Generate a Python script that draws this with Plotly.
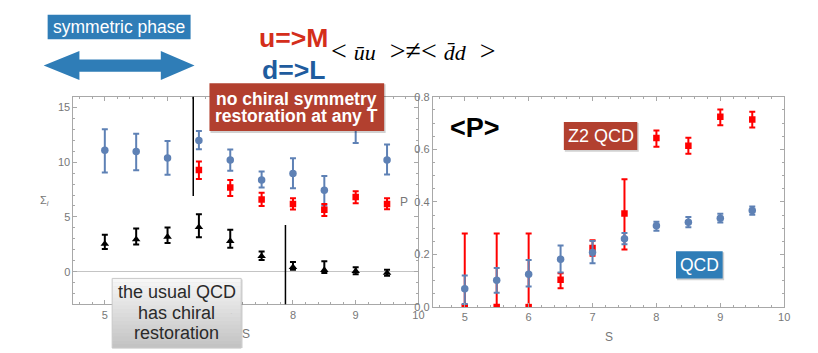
import plotly.graph_objects as go

# ---- data ----
S = [5, 5.5, 6, 6.5, 7, 7.5, 8, 8.5, 9, 9.5]
S_red = [6.5, 7, 7.5, 8, 8.5, 9, 9.5]

# left panel: Sigma_i
sig_blue = [11.09, 10.97, 10.38, 11.97, 10.21, 8.38, 8.97, 7.44, 13.2, 10.21]
sig_blue_up = [1.91, 1.62, 1.56, 0.88, 0.94, 0.77, 1.38, 1.30, 1.4, 1.41]
sig_blue_dn = [2.03, 1.71, 1.53, 0.79, 1.00, 0.70, 1.35, 1.40, 1.44, 1.33]

sig_red = [9.29, 7.68, 6.59, 6.18, 5.65, 6.82, 6.18]
sig_red_up = [0.77, 0.70, 0.62, 0.53, 0.53, 0.53, 0.53]
sig_red_dn = [0.82, 0.77, 0.59, 0.50, 0.56, 0.56, 0.47]

sig_black = [2.53, 2.94, 3.18, 4.06, 2.79, 1.41, 0.41, 0.15, 0.06, -0.12]
sig_black_up = [0.85, 1.00, 0.85, 1.18, 1.03, 0.44, 0.47, 0.79, 0.35, 0.30]
sig_black_dn = [0.47, 0.47, 0.56, 0.91, 0.61, 0.35, 0.23, 0.27, 0.30, 0.26]

# dividers drawn on the left panel (S, y_from, y_to)
dividers = [(6.41, 6.9, 16), (7.88, -3, 4.26)]

# right panel: <P>
p_z2 = [0.0, 0.0, 0.0, 0.104, 0.225, 0.356, 0.643, 0.614, 0.724, 0.714]
p_z2_up = [0.28, 0.28, 0.28, 0.025, 0.029, 0.13, 0.029, 0.03, 0.028, 0.029]
p_z2_dn = [0.28, 0.28, 0.28, 0.032, 0.03, 0.137, 0.033, 0.031, 0.032, 0.031]

p_qcd = [0.07, 0.102, 0.125, 0.182, 0.208, 0.26, 0.309, 0.323, 0.338, 0.367]
p_qcd_up = [0.05, 0.047, 0.054, 0.052, 0.043, 0.022, 0.016, 0.02, 0.017, 0.016]
p_qcd_dn = [0.058, 0.047, 0.047, 0.05, 0.041, 0.021, 0.019, 0.019, 0.016, 0.016]

BLUE = '#5e81b5'
RED = '#ff0000'
BOXRED = '#b2402f'
BOXBLUE = '#2f7db7'
FRAME = '#a8a8a8'
TXT = '#777777'

W, H = 818, 353
def px(x): return x / W
def py(y): return 1 - y / H


def errs(up, dn, color):
    return dict(type='data', symmetric=False, array=up, arrayminus=dn,
                color=color, thickness=2, width=3)


fig = go.Figure()

fig.add_trace(go.Scatter(x=S, y=sig_blue, mode='markers', xaxis='x', yaxis='y',
                         marker=dict(color=BLUE, size=7.5, symbol='circle'),
                         error_y=errs(sig_blue_up, sig_blue_dn, BLUE)))
fig.add_trace(go.Scatter(x=S_red, y=sig_red, mode='markers', xaxis='x', yaxis='y',
                         marker=dict(color=RED, size=6.5, symbol='square'),
                         error_y=errs(sig_red_up, sig_red_dn, RED)))
fig.add_trace(go.Scatter(x=S, y=sig_black, mode='markers', xaxis='x', yaxis='y',
                         marker=dict(color='black', size=7.5, symbol='triangle-up'),
                         error_y=errs(sig_black_up, sig_black_dn, 'black')))

fig.add_trace(go.Scatter(x=S, y=p_z2, mode='markers', xaxis='x2', yaxis='y2',
                         marker=dict(color=RED, size=6.5, symbol='square'),
                         error_y=errs(p_z2_up, p_z2_dn, RED)))
fig.add_trace(go.Scatter(x=S, y=p_qcd, mode='markers', xaxis='x2', yaxis='y2',
                         marker=dict(color=BLUE, size=7.5, symbol='circle'),
                         error_y=errs(p_qcd_up, p_qcd_dn, BLUE)))

for xv, y0, y1 in dividers:
    fig.add_shape(type='line', xref='x', yref='y', x0=xv, x1=xv, y0=y0, y1=y1,
                  line=dict(color='black', width=1.5))

axis_common = dict(showline=True, linecolor=FRAME, linewidth=1, mirror='ticks',
                   ticks='inside', ticklen=4, tickcolor=FRAME, showgrid=False,
                   tickfont=dict(family='Liberation Sans', size=11, color=TXT))

fig.update_layout(
    width=W, height=H, autosize=False,
    margin=dict(l=0, r=0, t=0, b=0),
    paper_bgcolor='white', plot_bgcolor='white',
    showlegend=False,
    xaxis=dict(domain=[px(74), px(421.5)], range=[4.5, 10], anchor='y',
               tickvals=[5, 6, 7, 8, 9, 10], zeroline=False,
               minor=dict(dtick=0.2, ticks='inside', ticklen=2, tickcolor=FRAME),
               **axis_common),
    yaxis=dict(domain=[py(309), py(93.7)], range=[-3, 16], anchor='x',
               tickvals=[0, 5, 10, 15], zeroline=True, zerolinecolor='#c4c4c4',
               zerolinewidth=1,
               minor=dict(dtick=1, ticks='inside', ticklen=2, tickcolor=FRAME),
               **axis_common),
    xaxis2=dict(domain=[px(436), px(790)], range=[4.5, 10], anchor='y2',
                tickvals=[5, 6, 7, 8, 9, 10], zeroline=False,
                minor=dict(dtick=0.2, ticks='inside', ticklen=2, tickcolor=FRAME),
                **axis_common),
    yaxis2=dict(domain=[py(311.7), py(94)], range=[0, 0.8], anchor='x2',
                tickvals=[0, 0.2, 0.4, 0.6, 0.8], tickformat='.1f', zeroline=False,
                minor=dict(dtick=0.05, ticks='inside', ticklen=2, tickcolor=FRAME),
                **axis_common),
)


def box(x0, y0, x1, y1, color, shadow=True):
    if shadow:
        fig.add_shape(type='rect', xref='paper', yref='paper', layer='above',
                      x0=px(x0 + 1), x1=px(x1 + 1.5), y0=py(y0 + 1), y1=py(y1 + 2),
                      fillcolor='rgba(0,0,0,0.18)', line=dict(width=0))
    fig.add_shape(type='rect', xref='paper', yref='paper', layer='above',
                  x0=px(x0), x1=px(x1), y0=py(y0), y1=py(y1),
                  fillcolor=color, line=dict(width=0))


def text(x, y, s, size, color, family='Liberation Sans', **kw):
    fig.add_annotation(xref='paper', yref='paper', x=px(x), y=py(y), text=s,
                       showarrow=False, xanchor=kw.pop('xanchor', 'center'),
                       yanchor='middle',
                       font=dict(family=family, size=size, color=color), **kw)


# symmetric phase label and double arrow
box(48, 9, 192, 34.5, BOXBLUE, shadow=False)
text(120, 22, 'symmetric phase', 17.5, 'white')
arrow = [(44, 61.7), (80, 46.7), (80, 55.5), (162, 55.5), (162, 46.7),
         (196, 61.7), (162, 76.7), (162, 68), (80, 68), (80, 76.7)]
path = 'M ' + ' L '.join(f'{px(a):.5f},{py(b):.5f}' for a, b in arrow) + ' Z'
fig.add_shape(type='path', xref='paper', yref='paper', path=path, layer='above',
              fillcolor=BOXBLUE, line=dict(width=0))

# u=>M, d=>L, condensate inequality
text(295.5, 33, '<b>u=&gt;M</b>', 26.5, '#d42e1b')
text(295.5, 66, '<b>d=&gt;L</b>', 26.5, '#1f5c9e')
NB = '\u00a0'
letters = '<span style="font-size:22px"><i>{}</i></span>'
cond = ('&lt;' + NB + letters.format('\u016bu') + NB * 2 + '&gt;\u2260&lt;' + NB
        + letters.format('d\u0304d') + NB * 2 + '&gt;')
text(331, 46, cond, 28, 'black', family='Liberation Serif', xanchor='left')

# no chiral symmetry box
box(211, 80, 387, 129.5, BOXRED)
text(299, 96, '<b>no chiral symmetry</b>', 17.5, 'white')
text(299, 114, '<b>restoration at any T</b>', 17.5, 'white')

# gradient box "the usual QCD has chiral restoration"
fig.add_shape(type='rect', xref='paper', yref='paper', layer='above',
              x0=px(114), x1=px(244.5), y0=py(283), y1=py(354),
              fillcolor='rgba(0,0,0,0.15)', line=dict(width=0))
n = 18
top, bot = 282, 354
for i in range(n):
    t = i / (n - 1)
    c = int(247 - t * 52)
    fig.add_shape(type='rect', xref='paper', yref='paper', layer='above',
                  x0=px(113), x1=px(243),
                  y0=py(top + (bot - top) * (i + 1) / n + 0.3),
                  y1=py(top + (bot - top) * i / n),
                  fillcolor=f'rgb({c},{c},{c})', line=dict(width=0))
fig.add_shape(type='rect', xref='paper', yref='paper', layer='above',
              x0=px(113), x1=px(243), y0=py(354), y1=py(282),
              fillcolor='rgba(0,0,0,0)', line=dict(color='#c8c8c8', width=1))
text(178, 296, 'the usual QCD', 18, '#2a2a2a')
text(178, 318, 'has chiral', 18, '#2a2a2a')
text(178, 339, 'restoration', 18, '#2a2a2a')

# right-panel labels
text(479, 126, '<b>&lt;P&gt;</b>', 27, 'black')
box(568, 120, 642, 149, BOXRED)
text(605, 134.5, 'Z2 QCD', 18, 'white')
box(681, 254, 728, 282, BOXBLUE)
text(704.5, 268, 'QCD', 17.5, 'white')

# axis titles and stray labels
text(45, 202, '\u03a3<sub><i>i</i></sub>', 11, TXT)
text(248, 340, 'S', 12, TXT)
text(613, 343, 'S', 12, TXT)
text(407, 203, 'P', 12, TXT)

fig.write_html("out.html", config={'displayModeBar': False},
               post_script="document.body.style.margin='0';document.body.style.overflow='hidden';")
